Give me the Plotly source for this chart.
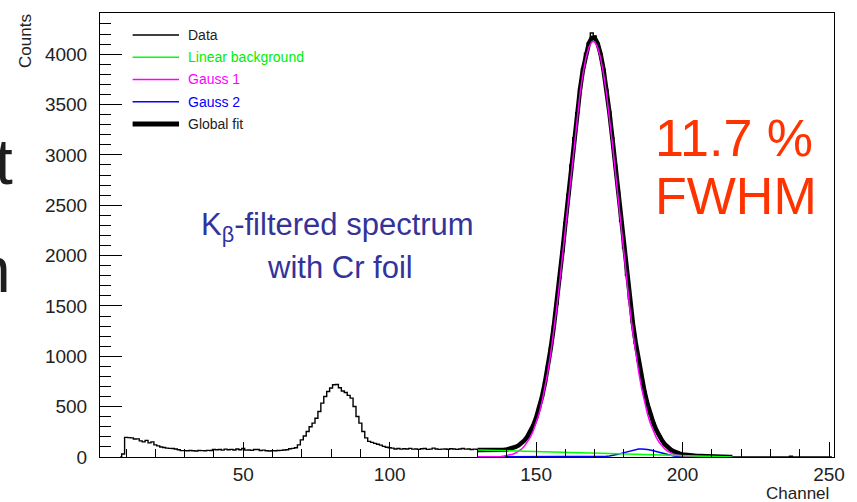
import plotly.graph_objects as go

# ---------------- data ----------------
data_channels = list(range(8, 252))
data_counts = [
    0, 30, 195, 192, 190, 178, 180, 160, 150, 165, 140, 150,            # 8-19
    120, 110, 100, 95, 88, 86, 84, 80, 72, 63,                          # 20-29
    63, 62, 65, 62, 60, 64, 63, 62, 66, 64,                             # 30-39
    75, 72, 74, 68, 78, 72, 76, 70, 80, 72,                             # 40-49
    86, 68, 70, 66, 75, 74, 65, 68, 62, 60,                             # 50-59
    63, 62, 65, 66, 70, 72, 82, 86, 92, 120,                            # 60-69
    170, 209, 253, 300, 336, 385, 452, 535, 601, 651,                   # 70-79
    685, 718, 720, 688, 655, 640, 612, 585, 502, 402,                   # 80-89
    336, 253, 190, 155, 145, 135, 126, 118, 106, 97,                    # 90-99
    92, 88, 80, 85, 78, 82, 80, 86, 78, 80,                             # 100-109
    76, 82, 84, 76, 78, 88, 80, 76, 78, 80,                             # 110-119
    77, 82, 79, 76, 80, 84, 78, 80, 75, 78,                             # 120-129
    76, 74, 72, 70, 72, 70, 69, 71, 73, 75,                             # 130-139
    78, 82, 90, 102, 118, 138, 168, 205, 255, 318,                      # 140-149
    392, 485, 600, 740, 900, 1085, 1295, 1520, 1780, 2040,              # 150-159
    2330, 2610, 2900, 3170, 3420, 3660, 3855, 4010, 4115, 4210,         # 160-169
    4180, 4105, 4000, 3850, 3650, 3430, 3170, 2900, 2630, 2340,         # 170-179
    2075, 1805, 1565, 1335, 1130, 950, 790, 650, 530, 425,              # 180-189
    340, 270, 212, 165, 125, 96, 72, 56, 42, 34,                        # 190-199
    27, 22, 18, 15, 12, 10, 8, 7, 5, 4,                                 # 200-209
    3, 3, 2, 2, 1, 1, 0, 0, 0, 0,                                       # 210-219
    0, 0, 0, 0, 0, 0, 0, 0, 0, 0,                                       # 220-229
    0, 0, 0, 0, 0, 0, 0, 8, 0, 0,                                       # 230-239
    0, 0, 0, 0, 0, 0, 0, 0, 0, 0,                                       # 240-249
    0, 0,                                                               # 250-251
]

fit_channels = list(range(130, 218))
background = [
    70, 69, 68, 68, 67, 66, 65, 64, 64, 63,
    62, 61, 60, 60, 59, 58, 57, 56, 56, 55,
    54, 53, 52, 51, 51, 50, 49, 48, 47, 47,
    46, 45, 44, 43, 43, 42, 41, 40, 39, 39,
    38, 37, 36, 35, 35, 34, 33, 32, 31, 31,
    30, 29, 28, 27, 27, 26, 25, 24, 23, 23,
    22, 21, 20, 19, 19, 18, 17, 16, 15, 15,
    14, 13, 12, 11, 11, 10, 9, 8, 7, 7,
    6, 5, 4, 3, 3, 2, 1, 0,
]
gauss1 = [
    0, 0, 0, 1, 1, 2, 3, 4, 6, 9,
    13, 19, 28, 40, 56, 78, 108, 146, 195, 258,
    335, 430, 546, 684, 845, 1031, 1240, 1474, 1728, 1997,
    2278, 2567, 2849, 3124, 3382, 3613, 3809, 3963, 4069, 4123,
    4123, 4069, 3963, 3809, 3613, 3382, 3124, 2849, 2567, 2278,
    1997, 1728, 1474, 1240, 1031, 845, 684, 546, 430, 335,
    258, 195, 146, 108, 78, 56, 40, 28, 19, 13,
    9, 6, 4, 3, 2, 1, 1, 0, 0, 0,
    0, 0, 0, 0, 0, 0, 0, 0,
]
gauss2 = [
    0, 0, 0, 0, 0, 0, 0, 0, 0, 0,
    0, 0, 0, 0, 0, 0, 0, 0, 0, 0,
    0, 0, 0, 0, 0, 0, 0, 0, 0, 0,
    0, 0, 0, 0, 0, 0, 0, 0, 0, 1,
    1, 2, 3, 5, 7, 11, 15, 21, 28, 36,
    44, 53, 61, 69, 75, 79, 80, 79, 75, 69,
    61, 53, 44, 36, 28, 21, 15, 11, 7, 5,
    3, 2, 1, 1, 0, 0, 0, 0, 0, 0,
    0, 0, 0, 0, 0, 0, 0, 0,
]
global_fit = [b + g + h for b, g, h in zip(background, gauss1, gauss2)]

x_ticks = [50, 100, 150, 200, 250]
y_ticks = [0, 500, 1000, 1500, 2000, 2500, 3000, 3500, 4000]

legend_names = ["Data", "Linear background", "Gauss 1", "Gauss 2", "Global fit"]
legend_colors = ["#000000", "#00ff00", "#ff00ff", "#0000ff", "#000000"]
legend_text_colors = ["#222222", "#00ee00", "#ff00ff", "#0000ff", "#222222"]
legend_widths = [1.5, 1.5, 1.5, 1.5, 5]

# ---------------- layout geometry ----------------
FIG_W, FIG_H = 857, 502
L, R, T, B = 100, 14, 12, 45
PW = FIG_W - L - R
PH = FIG_H - T - B
FONT = "Liberation Sans, Arial, Helvetica, sans-serif"


def px_x(px):
    return (px - L) / PW


def px_y(py):
    return (FIG_H - B - py) / PH


fig = go.Figure()

fig.add_trace(go.Scatter(x=data_channels, y=data_counts, mode="lines",
                         line=dict(color="black", width=1.4, shape="hvh"),
                         showlegend=False, hoverinfo="skip"))
fig.add_trace(go.Scatter(x=fit_channels, y=global_fit, mode="lines",
                         line=dict(color="black", width=4.5),
                         showlegend=False, hoverinfo="skip"))
fig.add_trace(go.Scatter(x=fit_channels, y=gauss2, mode="lines",
                         line=dict(color="#0000ff", width=1.5),
                         showlegend=False, hoverinfo="skip"))
fig.add_trace(go.Scatter(x=fit_channels, y=gauss1, mode="lines",
                         line=dict(color="#ff00ff", width=1.5),
                         showlegend=False, hoverinfo="skip"))
fig.add_trace(go.Scatter(x=fit_channels, y=background, mode="lines",
                         line=dict(color="#00ff00", width=1.5),
                         showlegend=False, hoverinfo="skip"))

shapes = []
annotations = []

# manual legend
row_y = [34, 56.3, 78.6, 100.9, 123.2]
for name, col, tcol, w, ry in zip(legend_names, legend_colors, legend_text_colors,
                                   legend_widths, row_y):
    shapes.append(dict(type="line", xref="paper", yref="paper",
                       x0=px_x(133), x1=px_x(180), y0=px_y(ry), y1=px_y(ry),
                       line=dict(color=col, width=w)))
    annotations.append(dict(text=name, xref="paper", yref="paper",
                            x=px_x(188), y=px_y(ry), xanchor="left", yanchor="middle",
                            showarrow=False, borderpad=0,
                            font=dict(family=FONT, size=14, color=tcol)))

# text annotations
annotations += [
    dict(text="11.7 %", xref="paper", yref="paper", x=px_x(661), y=px_y(137),
         xanchor="left", yanchor="middle", showarrow=False, borderpad=0,
         font=dict(family=FONT, size=52, color="#ff3300")),
    dict(text="FWHM", xref="paper", yref="paper", x=px_x(661), y=px_y(195),
         xanchor="left", yanchor="middle", showarrow=False, borderpad=0,
         font=dict(family=FONT, size=52, color="#ff3300")),
    dict(text="K<sub>β</sub>-filtered spectrum", xref="paper", yref="paper",
         x=px_x(340), y=px_y(226), xanchor="center", yanchor="middle",
         showarrow=False, borderpad=0,
         font=dict(family=FONT, size=31, color="#333399")),
    dict(text="with Cr foil", xref="paper", yref="paper",
         x=px_x(343), y=px_y(267), xanchor="center", yanchor="middle",
         showarrow=False, borderpad=0,
         font=dict(family=FONT, size=31, color="#333399")),
    dict(text="t", xref="paper", yref="paper", x=px_x(13), y=px_y(161),
         xanchor="right", yanchor="middle", showarrow=False, borderpad=0,
         font=dict(family=FONT, size=64, color="#1e1e1e")),
    dict(text="n", xref="paper", yref="paper", x=px_x(11), y=px_y(270),
         xanchor="right", yanchor="middle", showarrow=False, borderpad=0,
         font=dict(family=FONT, size=64, color="#1e1e1e")),
    dict(text="Channel", xref="paper", yref="paper", x=px_x(839), y=px_y(494),
         xanchor="right", yanchor="middle", showarrow=False, borderpad=0,
         font=dict(family=FONT, size=17, color="#222222")),
    dict(text="Counts", xref="paper", yref="paper", x=px_x(24), y=px_y(12),
         xanchor="center", yanchor="top", textangle=-90, showarrow=False, borderpad=0,
         font=dict(family=FONT, size=17, color="#222222")),
]

fig.update_layout(
    width=FIG_W, height=FIG_H, autosize=False,
    margin=dict(l=L, r=R, t=T, b=B, pad=0),
    paper_bgcolor="white", plot_bgcolor="white",
    showlegend=False,
    shapes=shapes, annotations=annotations,
    font=dict(family=FONT, color="#222222"),
    xaxis=dict(range=[1.1, 251.7], tickmode="array", tickvals=x_ticks,
               ticktext=[str(v) for v in x_ticks],
               ticks="inside", ticklen=15, tickwidth=1, tickcolor="black",
               minor=dict(dtick=10, tick0=0, ticks="inside", ticklen=8,
                          tickwidth=1, tickcolor="black", showgrid=False),
               showline=True, linecolor="black", linewidth=1, mirror=True,
               showgrid=False, zeroline=False, ticklabelstandoff=0,
               tickfont=dict(family=FONT, size=19, color="#222222")),
    yaxis=dict(range=[0, 4409], tickmode="array", tickvals=y_ticks,
               ticktext=[str(v) for v in y_ticks],
               ticks="inside", ticklen=22, tickwidth=1, tickcolor="black",
               minor=dict(dtick=100, tick0=0, ticks="inside", ticklen=11,
                          tickwidth=1, tickcolor="black", showgrid=False),
               showline=True, linecolor="black", linewidth=1, mirror=True,
               showgrid=False, zeroline=False, ticklabelstandoff=8,
               tickfont=dict(family=FONT, size=19, color="#222222")),
)

fig.write_html("out.html")
